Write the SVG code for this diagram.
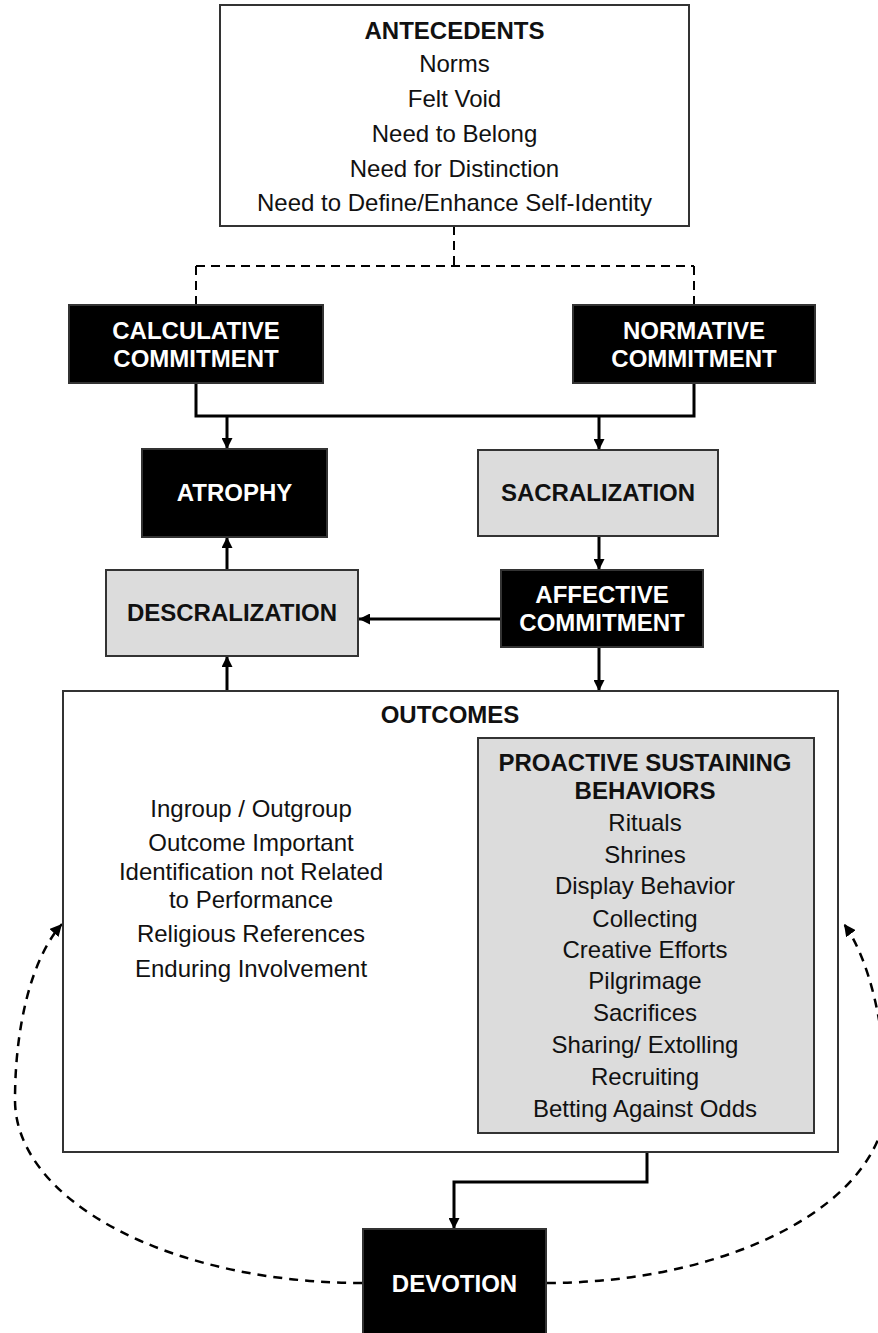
<svg xmlns="http://www.w3.org/2000/svg" width="878" height="1333" viewBox="0 0 878 1333">
<style>
  .box { stroke: #333; stroke-width: 2; }
  .white { fill: #ffffff; }
  .black { fill: #000000; }
  .gray { fill: #dcdcdc; }
  text { font-family: "Liberation Sans", Arial, sans-serif; font-size: 24px; text-anchor: middle; }
  .t { fill: #111; }
  .b { font-weight: bold; fill: #111; }
  .w { font-weight: bold; fill: #ffffff; }
  .conn { fill: none; stroke: #000; stroke-width: 3; }
  .dash { fill: none; stroke: #000; stroke-width: 2; stroke-dasharray: 9 6; }
  .dash2 { fill: none; stroke: #000; stroke-width: 2.5; stroke-dasharray: 9 7; }
</style>
<defs>
  <marker id="arr" markerUnits="userSpaceOnUse" markerWidth="11" markerHeight="11" refX="10" refY="5" orient="auto" viewBox="0 0 10 10">
    <path d="M0,0 L10,5 L0,10 z" fill="#000" stroke="none"/>
  </marker>
  <marker id="arrd" markerUnits="userSpaceOnUse" markerWidth="12" markerHeight="12" refX="10" refY="5" orient="auto" viewBox="0 0 10 10">
    <path d="M0,0 L10,5 L0,10 z" fill="#000" stroke="none"/>
  </marker>
</defs>
<rect width="878" height="1333" fill="#ffffff"/>

<g id="connectors">
  <path class="dash" d="M454,226 L454,266"/>
  <path class="dash" d="M196,266 L694,266"/>
  <path class="dash" d="M196,266 L196,305"/>
  <path class="dash" d="M694,266 L694,305"/>
  <path class="conn" d="M196,383 L196,416 L694,416 L694,383"/>
  <path class="conn" d="M227,416 L227,449" marker-end="url(#arr)"/>
  <path class="conn" d="M599,416 L599,450" marker-end="url(#arr)"/>
  <path class="conn" d="M599,536 L599,570" marker-end="url(#arr)"/>
  <path class="conn" d="M501,619 L359,619" marker-end="url(#arr)"/>
  <path class="conn" d="M227,570 L227,537" marker-end="url(#arr)"/>
  <path class="conn" d="M227,691 L227,656" marker-end="url(#arr)"/>
  <path class="conn" d="M599,647 L599,691" marker-end="url(#arr)"/>
  <path class="conn" d="M647,1133 L647,1182 L454,1182 L454,1229" marker-end="url(#arr)"/>
  <path class="dash2" d="M362,1283 A347,183 0 0 1 15,1100 C15,1030 30,960 62,924" marker-end="url(#arrd)"/>
  <path class="dash2" d="M547,1283 A340,183 0 0 0 886,1100 C886,1030 870,960 844,924" marker-end="url(#arrd)"/>
</g>

<g id="antecedents">
  <rect class="box white" x="220" y="5" width="469" height="221"/>
  <text class="b" x="454.5" y="39">ANTECEDENTS</text>
  <text class="t" x="454.5" y="72">Norms</text>
  <text class="t" x="454.5" y="107">Felt Void</text>
  <text class="t" x="454.5" y="142">Need to Belong</text>
  <text class="t" x="454.5" y="177">Need for Distinction</text>
  <text class="t" x="454.5" y="211">Need to Define/Enhance Self-Identity</text>
</g>

<g id="calculative">
  <rect class="box black" x="69" y="305" width="254" height="78"/>
  <text class="w" x="196" y="339">CALCULATIVE</text>
  <text class="w" x="196" y="367">COMMITMENT</text>
</g>

<g id="normative">
  <rect class="box black" x="573" y="305" width="242" height="78"/>
  <text class="w" x="694" y="339">NORMATIVE</text>
  <text class="w" x="694" y="367">COMMITMENT</text>
</g>

<g id="atrophy">
  <rect class="box black" x="142" y="449" width="185" height="88"/>
  <text class="w" x="234.5" y="501">ATROPHY</text>
</g>

<g id="sacralization">
  <rect class="box gray" x="478" y="450" width="240" height="86"/>
  <text class="b" x="598" y="501">SACRALIZATION</text>
</g>

<g id="descralization">
  <rect class="box gray" x="106" y="570" width="252" height="86"/>
  <text class="b" x="232" y="621">DESCRALIZATION</text>
</g>

<g id="affective">
  <rect class="box black" x="501" y="570" width="202" height="77"/>
  <text class="w" x="602" y="603">AFFECTIVE</text>
  <text class="w" x="602" y="631">COMMITMENT</text>
</g>

<g id="outcomes">
  <rect class="box white" x="63" y="691" width="775" height="461"/>
  <text class="b" x="450" y="723">OUTCOMES</text>
  <text class="t" x="251" y="817">Ingroup / Outgroup</text>
  <text class="t" x="251" y="851">Outcome Important</text>
  <text class="t" x="251" y="880">Identification not Related</text>
  <text class="t" x="251" y="908">to Performance</text>
  <text class="t" x="251" y="942">Religious References</text>
  <text class="t" x="251" y="977">Enduring Involvement</text>
</g>

<g id="proactive">
  <rect class="box gray" x="478" y="738" width="336" height="395"/>
  <text class="b" x="645" y="771">PROACTIVE SUSTAINING</text>
  <text class="b" x="645" y="799">BEHAVIORS</text>
  <text class="t" x="645" y="831">Rituals</text>
  <text class="t" x="645" y="863">Shrines</text>
  <text class="t" x="645" y="894">Display Behavior</text>
  <text class="t" x="645" y="927">Collecting</text>
  <text class="t" x="645" y="958">Creative Efforts</text>
  <text class="t" x="645" y="989">Pilgrimage</text>
  <text class="t" x="645" y="1021">Sacrifices</text>
  <text class="t" x="645" y="1053">Sharing/ Extolling</text>
  <text class="t" x="645" y="1085">Recruiting</text>
  <text class="t" x="645" y="1117">Betting Against Odds</text>
</g>

<g id="devotion">
  <rect class="box black" x="363" y="1229" width="183" height="110"/>
  <text class="w" x="454.5" y="1292">DEVOTION</text>
</g>
</svg>
